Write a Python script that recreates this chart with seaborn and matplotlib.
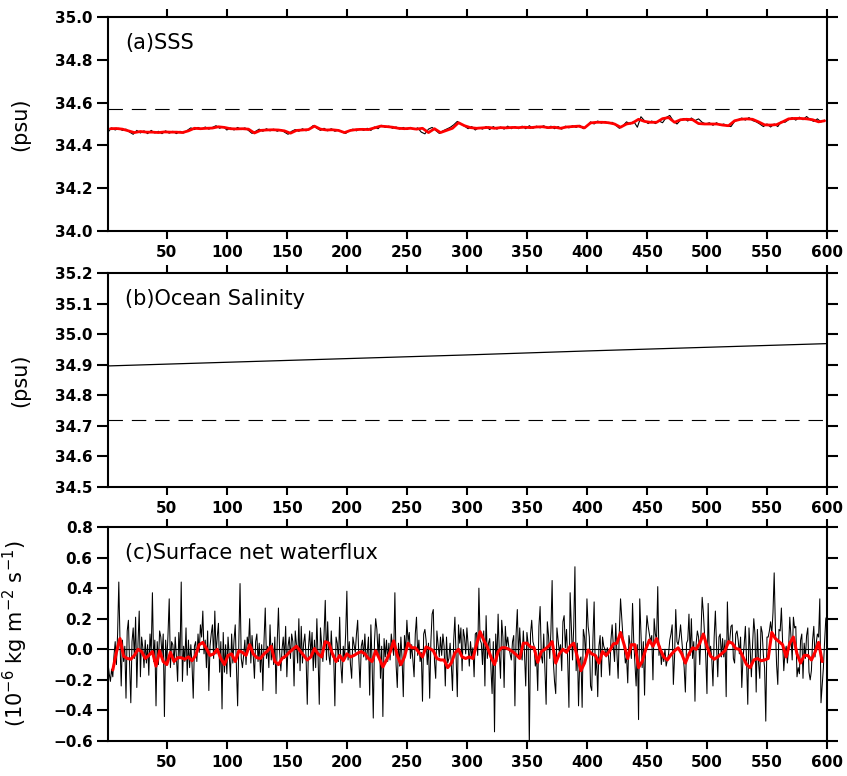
import numpy as np
import pandas as pd
import matplotlib
matplotlib.use("Agg")
import matplotlib.pyplot as plt
from matplotlib.ticker import FuncFormatter, MultipleLocator
import seaborn as sns

# ---------------- data ----------------
# (a) SSS, black: every 3 years starting at year 1
sss_black = [
    34.462, 34.482, 34.472, 34.480, 34.470, 34.476, 34.462, 34.452, 34.470, 34.458,
    34.468, 34.455, 34.470, 34.458, 34.466, 34.455, 34.468, 34.457, 34.466, 34.455,
    34.466, 34.458, 34.470, 34.482, 34.474, 34.484, 34.476, 34.486, 34.476, 34.484,
    34.492, 34.480, 34.488, 34.472, 34.482, 34.472, 34.484, 34.474, 34.482, 34.470,
    34.456, 34.466, 34.476, 34.466, 34.478, 34.468, 34.476, 34.466, 34.474, 34.462,
    34.452, 34.466, 34.474, 34.466, 34.478, 34.468, 34.478, 34.493, 34.480, 34.470,
    34.480, 34.468, 34.478, 34.466, 34.472, 34.462, 34.456, 34.468, 34.476, 34.468,
    34.478, 34.470, 34.480, 34.470, 34.486, 34.478, 34.494, 34.484, 34.490, 34.480,
    34.486, 34.476, 34.484, 34.474, 34.484, 34.474, 34.482, 34.462, 34.454, 34.476,
    34.484, 34.470, 34.456, 34.468, 34.476, 34.484, 34.496, 34.512, 34.500, 34.490,
    34.478, 34.488, 34.472, 34.484, 34.476, 34.488, 34.474, 34.488, 34.476, 34.486,
    34.476, 34.490, 34.478, 34.488, 34.478, 34.490, 34.478, 34.492, 34.480, 34.490,
    34.482, 34.492, 34.480, 34.490, 34.478, 34.488, 34.476, 34.490, 34.482, 34.492,
    34.484, 34.494, 34.478, 34.490, 34.510, 34.500, 34.514, 34.504, 34.512, 34.502,
    34.508, 34.494, 34.480, 34.492, 34.510, 34.500, 34.512, 34.485, 34.534, 34.515,
    34.502, 34.514, 34.502, 34.514, 34.506, 34.530, 34.540, 34.514, 34.500, 34.518,
    34.526, 34.514, 34.528, 34.516, 34.524, 34.508, 34.500, 34.506, 34.494, 34.506,
    34.494, 34.500, 34.490, 34.488, 34.512, 34.520, 34.528, 34.518, 34.530, 34.516,
    34.510, 34.500, 34.488, 34.500, 34.486, 34.500, 34.488, 34.512, 34.508, 34.520,
    34.530, 34.518, 34.532, 34.520, 34.535, 34.520, 34.512, 34.524, 34.510, 34.518,
]
# (a) SSS, red smoothed: every 5 years starting at year 3
sss_red = [
    34.478, 34.479, 34.476, 34.468, 34.460, 34.465, 34.462, 34.462, 34.460, 34.463,
    34.462, 34.462, 34.460, 34.468, 34.480, 34.478, 34.480, 34.481, 34.487, 34.484,
    34.478, 34.477, 34.478, 34.476, 34.458, 34.470, 34.472, 34.473, 34.472, 34.468,
    34.457, 34.470, 34.472, 34.474, 34.490, 34.476, 34.472, 34.473, 34.470, 34.460,
    34.470, 34.474, 34.475, 34.474, 34.482, 34.490, 34.488, 34.485, 34.480, 34.478,
    34.480, 34.476, 34.480, 34.460, 34.478, 34.460, 34.470, 34.480, 34.506, 34.492,
    34.483, 34.480, 34.482, 34.484, 34.480, 34.483, 34.482, 34.484, 34.483, 34.485,
    34.483, 34.486, 34.487, 34.483, 34.485, 34.480, 34.486, 34.488, 34.490, 34.482,
    34.505, 34.508, 34.508, 34.506, 34.500, 34.485, 34.500, 34.505, 34.522, 34.512,
    34.508, 34.508, 34.525, 34.530, 34.508, 34.520, 34.522, 34.520, 34.502, 34.500,
    34.500, 34.500, 34.495, 34.492, 34.515, 34.522, 34.524, 34.522, 34.510, 34.496,
    34.495, 34.497, 34.510, 34.524, 34.526, 34.526, 34.524, 34.520, 34.510, 34.515,
]
sss_ref = 34.57

# (b) Ocean salinity
ocean_years = [1, 100, 200, 300, 400, 500, 600]
ocean_sal = [34.896, 34.908, 34.920, 34.932, 34.945, 34.957, 34.969]
ocean_ref = 34.72

# (c) Surface net waterflux, black: annual, years 1..600
flux_black = [
    -0.09, -0.16, -0.21, -0.13, -0.18, -0.04, 0.05, -0.10, 0.10, 0.44,
    0.05, -0.24, 0.06, -0.08, 0.02, -0.32, 0.12, 0.19, -0.10, -0.35,
    0.05, 0.14, -0.06, 0.21, -0.25, 0.04, 0.25, -0.18, 0.08, 0.01,
    -0.12, 0.06, -0.09, 0.03, -0.17, 0.10, -0.02, 0.37, -0.08, 0.06,
    -0.37, 0.05, -0.10, 0.12, 0.08, -0.04, 0.10, -0.44, 0.06, -0.09,
    0.10, 0.33, -0.12, 0.05, 0.03, -0.10, 0.08, -0.05, -0.21, 0.11,
    -0.06, 0.44, -0.21, 0.02, -0.08, 0.14, -0.17, 0.06, -0.12, 0.03,
    -0.10, -0.32, 0.02, 0.05, -0.08, 0.10, -0.02, 0.16, 0.08, 0.25,
    -0.03, 0.06, -0.12, 0.12, -0.27, 0.02, 0.10, 0.16, -0.06, 0.25,
    -0.03, 0.08, 0.17, -0.15, 0.05, -0.39, 0.11, -0.15, 0.03, -0.16,
    0.08, -0.04, -0.18, 0.10, -0.09, 0.06, 0.16, -0.12, -0.37, 0.05,
    0.43, -0.06, -0.12, -0.04, 0.06, -0.10, 0.08, 0.02, 0.20, -0.09,
    0.09, -0.04, -0.19, 0.05, 0.10, -0.08, 0.04, -0.15, 0.03, -0.27,
    0.06, 0.27, -0.06, 0.02, -0.12, 0.16, -0.07, 0.04, -0.10, 0.08,
    -0.29, 0.05, 0.27, -0.02, -0.14, 0.00, 0.08, -0.06, 0.15, -0.18,
    0.02, 0.08, -0.06, 0.10, 0.05, -0.24, 0.12, 0.03, -0.09, 0.20,
    -0.14, 0.15, -0.09, 0.04, 0.10, -0.05, -0.36, 0.01, 0.12, -0.04,
    0.11, -0.14, 0.06, -0.12, 0.20, -0.05, -0.36, 0.14, 0.03, -0.08,
    0.10, 0.32, -0.07, 0.18, -0.04, -0.10, 0.12, -0.05, -0.03, -0.37,
    0.08, 0.04, -0.08, 0.21, -0.10, -0.22, 0.02, -0.07, 0.10, 0.38,
    -0.07, 0.05, -0.10, -0.19, 0.08, 0.03, -0.02, 0.10, 0.19, -0.06,
    -0.25, 0.02, 0.06, -0.05, 0.10, -0.07, -0.02, 0.08, -0.30, 0.16,
    -0.08, -0.45, 0.05, 0.20, 0.13, -0.04, 0.10, -0.19, 0.02, -0.44,
    0.07, -0.05, 0.06, -0.08, 0.04, -0.07, 0.10, 0.02, -0.04, 0.37,
    -0.10, -0.25, 0.04, -0.11, 0.08, -0.06, -0.31, 0.09, -0.02, 0.19,
    0.05, 0.11, -0.06, 0.03, -0.07, -0.18, 0.10, 0.21, -0.04, 0.06,
    -0.08, -0.02, -0.34, 0.10, 0.13, 0.06, -0.10, 0.04, -0.32, 0.05,
    0.23, 0.26, -0.08, -0.19, 0.12, 0.03, -0.05, 0.08, -0.04, 0.10,
    0.02, -0.24, 0.08, -0.09, -0.06, 0.04, -0.10, -0.27, 0.06, 0.21,
    -0.05, -0.31, 0.16, 0.04, 0.14, -0.14, 0.13, 0.08, -0.03, 0.14,
    0.03, -0.11, 0.05, -0.05, 0.01, -0.18, 0.10, 0.11, -0.04, 0.40,
    0.06, 0.04, -0.10, 0.12, -0.24, 0.22, -0.06, 0.04, 0.07, -0.12,
    -0.29, 0.05, -0.54, 0.10, -0.08, 0.23, -0.02, -0.19, 0.19, 0.08,
    -0.25, 0.15, 0.02, 0.08, 0.01, -0.03, -0.07, 0.05, 0.09, -0.37,
    0.10, 0.26, -0.06, 0.14, -0.02, -0.07, 0.12, -0.03, -0.24, 0.11,
    0.04, -0.63, 0.10, 0.19, 0.05, 0.02, -0.11, -0.05, -0.27, 0.15,
    0.28, -0.04, -0.09, 0.10, -0.13, -0.36, 0.18, 0.09, -0.06, 0.12,
    0.45, -0.08, -0.21, -0.29, 0.14, 0.06, -0.02, 0.03, -0.14, 0.18,
    0.22, 0.01, 0.13, -0.08, -0.38, 0.37, 0.15, -0.07, 0.15, 0.54,
    -0.14, 0.04, -0.37, -0.07, -0.05, -0.38, 0.13, 0.08, -0.06, 0.33,
    0.15, 0.08, -0.24, -0.27, 0.07, 0.31, -0.17, -0.04, -0.31, 0.02,
    0.09, -0.18, 0.08, 0.02, 0.00, -0.05, 0.01, -0.05, -0.17, 0.06,
    0.16, 0.02, -0.08, 0.17, -0.03, -0.19, 0.12, 0.33, 0.21, 0.08,
    0.02, -0.09, -0.05, -0.22, 0.09, 0.03, -0.06, 0.30, 0.05, -0.10,
    -0.24, 0.03, -0.46, 0.33, 0.10, -0.12, 0.05, -0.30, 0.06, 0.22,
    0.15, 0.10, 0.05, 0.09, -0.20, 0.20, 0.10, 0.06, 0.41, -0.04,
    0.02, -0.10, -0.02, -0.08, 0.00, -0.11, -0.07, -0.03, 0.06, 0.10,
    0.16, -0.23, -0.05, 0.26, 0.05, 0.03, 0.08, 0.16, 0.06, -0.03,
    -0.12, -0.28, 0.04, 0.06, 0.23, -0.04, 0.20, -0.06, 0.05, -0.34,
    0.04, 0.12, 0.08, -0.10, 0.10, 0.34, 0.24, 0.10, -0.05, -0.29,
    0.30, -0.04, 0.02, -0.06, -0.24, 0.08, 0.25, 0.02, -0.18, 0.08,
    0.10, -0.05, 0.07, -0.05, 0.06, -0.31, 0.31, 0.03, 0.06, 0.15,
    0.16, -0.06, -0.09, 0.10, 0.12, 0.06, -0.03, 0.08, -0.25, -0.06,
    0.03, 0.15, -0.08, -0.36, 0.14, 0.00, -0.18, 0.03, 0.20, 0.10,
    -0.28, 0.13, -0.09, -0.19, 0.15, 0.11, -0.04, -0.12, -0.47, 0.08,
    0.08, 0.12, 0.18, 0.10, 0.24, 0.50, 0.14, -0.10, -0.23, 0.13,
    0.12, 0.27, 0.05, -0.14, -0.02, 0.02, -0.09, 0.01, 0.21, 0.08,
    -0.07, 0.21, 0.14, 0.15, -0.18, -0.12, -0.16, 0.06, 0.10, -0.19,
    0.04, -0.06, 0.09, 0.14, -0.15, -0.20, -0.14, 0.06, 0.15, -0.05,
    0.04, 0.10, 0.08, 0.33, -0.35, -0.24, -0.12, 0.05, 0.20, 0.22,
]
# (c) red smoothed: every 3 years starting at year 5
flux_red = [
    -0.135, -0.02, 0.07, -0.045, -0.06, -0.065, -0.04, 0.0, -0.015, -0.06,
    -0.04, -0.015, -0.11, -0.01, -0.08, -0.10, -0.02, -0.08, -0.055, -0.055,
    -0.065, -0.05, -0.075, -0.04, 0.03, 0.045, 0.005, -0.04, -0.03, 0.0,
    -0.06, -0.10, -0.04, -0.03, -0.08, -0.01, -0.02, -0.04, 0.03, -0.03,
    -0.055, -0.06, -0.03, -0.01, 0.02, -0.08, -0.10, -0.06, -0.045, -0.02,
    0.0, 0.02, -0.01, -0.04, -0.07, -0.05, 0.005, -0.03, -0.05, 0.05,
    0.04, -0.03, -0.08, -0.04, -0.075, -0.03, -0.05, -0.04, -0.025, -0.015,
    -0.03, -0.06, -0.08, -0.01, -0.06, -0.115, -0.07, -0.02, 0.055, -0.04,
    -0.10, -0.05, 0.04, 0.01, 0.01, -0.02, -0.05, 0.015, 0.005, -0.01,
    -0.06, -0.07, -0.07, -0.12, -0.09, -0.025, 0.0, -0.05, -0.06, -0.05,
    -0.06, 0.03, 0.115, 0.06, 0.015, -0.05, -0.10, -0.015, 0.01, 0.01,
    0.0, -0.015, -0.035, -0.06, 0.04, 0.04, 0.015, 0.01, -0.085, -0.015,
    0.0, 0.02, 0.05, -0.09, -0.03, 0.0, -0.02, 0.02, 0.04, -0.05,
    -0.14, -0.09, -0.005, -0.03, -0.04, -0.09, -0.015, -0.04, -0.01, 0.035,
    0.04, 0.11, 0.03, -0.06, 0.03, 0.03, -0.12, -0.08, 0.0, 0.06,
    0.02, 0.07, 0.0, -0.05, -0.07, -0.035, -0.01, 0.01, -0.03, -0.09,
    -0.03, 0.01, 0.0, 0.04, 0.10, 0.02, -0.045, -0.065, -0.05, -0.03,
    -0.01, 0.05, 0.04, 0.005, 0.0, -0.05, -0.10, -0.12, -0.07, -0.06,
    -0.075, -0.07, -0.06, 0.11, 0.07, 0.05, 0.03, -0.05, 0.04, 0.08,
    -0.03, -0.09, -0.04, -0.04, -0.07, -0.02, 0.045, -0.08,
]

x_ticks = [50, 100, 150, 200, 250, 300, 350, 400, 450, 500, 550, 600]

# ---------------- frames ----------------
df_sss_black = pd.DataFrame({"year": 1 + 3 * np.arange(len(sss_black)), "val": sss_black})
df_sss_red = pd.DataFrame({"year": 3 + 5 * np.arange(len(sss_red)), "val": sss_red})
df_ocean = pd.DataFrame({"year": ocean_years, "val": ocean_sal})
df_flux_black = pd.DataFrame({"year": 1 + np.arange(len(flux_black)), "val": flux_black})
df_flux_red = pd.DataFrame({"year": 5 + 3 * np.arange(len(flux_red)), "val": flux_red})

# ---------------- style ----------------
sns.set_style("ticks")
plt.rcParams["font.family"] = ["DejaVu Sans"]
plt.rcParams["axes.linewidth"] = 1.5
for k in ["text.color", "axes.labelcolor", "xtick.color", "ytick.color", "axes.edgecolor"]:
    plt.rcParams[k] = "black"

fig = plt.figure(figsize=(8.47, 7.76), dpi=100)
L, W, H = 108 / 847, 719 / 847, 214 / 776
ax_a = fig.add_axes([L, 1 - 231 / 776, W, H])
ax_b = fig.add_axes([L, 1 - 487 / 776, W, H])
ax_c = fig.add_axes([L, 1 - 741 / 776, W, H])

# (a)
sns.lineplot(data=df_sss_black, x="year", y="val", ax=ax_a, color="black", lw=0.8,
             estimator=None, sort=False)
sns.lineplot(data=df_sss_red, x="year", y="val", ax=ax_a, color="red", lw=2.0,
             estimator=None, sort=False)
ax_a.axhline(sss_ref, color="black", lw=0.8, ls=(0, (13, 8)))
ax_a.set_ylim(34.0, 35.0)
ax_a.yaxis.set_major_locator(MultipleLocator(0.2))

# (b)
sns.lineplot(data=df_ocean, x="year", y="val", ax=ax_b, color="black", lw=0.9,
             estimator=None, sort=False)
ax_b.axhline(ocean_ref, color="black", lw=0.8, ls=(0, (13, 8)))
ax_b.set_ylim(34.5, 35.2)
ax_b.yaxis.set_major_locator(MultipleLocator(0.1))

# (c)
ax_c.axhline(0.0, color="black", lw=0.8, zorder=1)
sns.lineplot(data=df_flux_black, x="year", y="val", ax=ax_c, color="black", lw=0.75,
             estimator=None, sort=False)
sns.lineplot(data=df_flux_red, x="year", y="val", ax=ax_c, color="red", lw=2.2,
             estimator=None, sort=False)
ax_c.set_ylim(-0.6, 0.8)
ax_c.yaxis.set_major_locator(MultipleLocator(0.2))

fmt = FuncFormatter(lambda v, p: f"{v:.1f}".replace("-", "\u2212") if abs(v) > 1e-9 else "0.0")

titles = ["(a)SSS", "(b)Ocean Salinity", "(c)Surface net waterflux"]
ylabels = ["(psu)", "(psu)", r"(10$^{-6}$ kg m$^{-2}$ s$^{-1}$)"]
ylab_sizes = [15, 15, 15]
for ax, t, yl, ys in zip([ax_a, ax_b, ax_c], titles, ylabels, ylab_sizes):
    ax.set_xlim(1, 600)
    ax.set_xticks(x_ticks)
    ax.yaxis.set_major_formatter(fmt)
    ax.tick_params(axis="both", which="both", direction="out", top=True, right=True,
                   labeltop=False, labelright=False, width=1.5, colors="black")
    ax.tick_params(axis="x", length=6, pad=4)
    ax.tick_params(axis="y", length=8, pad=3)
    for lab in ax.get_xticklabels() + ax.get_yticklabels():
        lab.set_fontweight("bold")
        lab.set_fontsize(11)
    ax.set_xlabel("")
    ax.set_ylabel(yl, fontsize=ys, color="black")
    ax.yaxis.set_label_coords(-0.108, 0.5)
    ax.text(0.024, 0.88, t, transform=ax.transAxes, fontsize=15, ha="left",
            va="center", color="black")
    for s in ax.spines.values():
        s.set_linewidth(1.5)
        s.set_visible(True)
        s.set_color("black")

fig.savefig("out.png", dpi=100)
